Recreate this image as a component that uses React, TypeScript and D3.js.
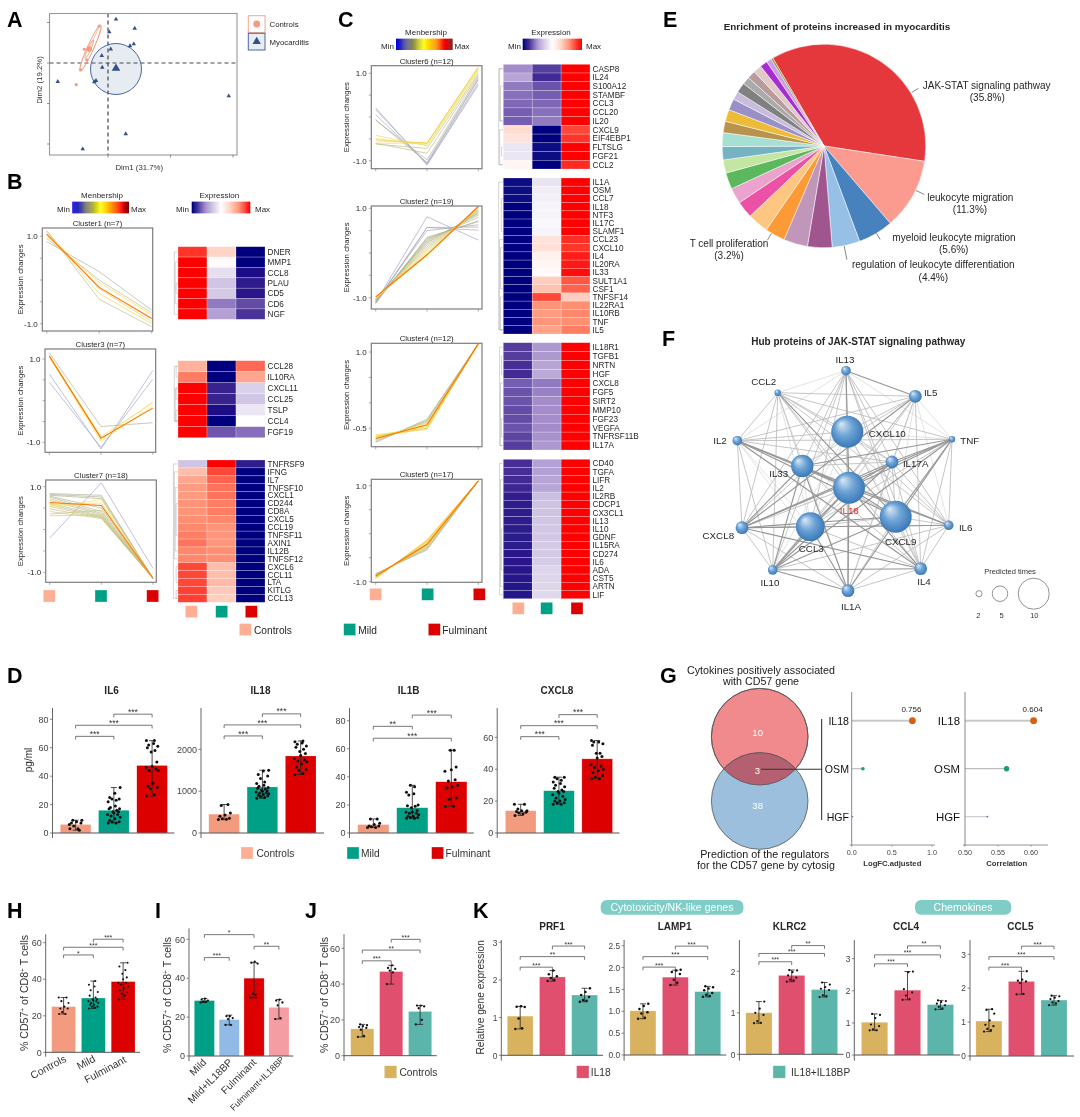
import * as d3 from "d3";
import React from "react";

const FONT = "'Liberation Sans', Arial, sans-serif";
const TXT = "#262626";

// ---------- colours ----------
const GROUP_COLORS = ["#fdae93", "#00a087", "#dc0000"];
const D_COLORS = ["#f39b7f", "#00a087", "#dc0000"];
const I_COLORS = ["#00a087", "#91bbe6", "#dc0000", "#f49ea3"];
const K_COLORS = ["#d9b25f", "#e0506e", "#5bb5aa"];

const heatColor = d3
  .scaleLinear<string>()
  .domain([-1, -0.8, -0.5, -0.25, 0, 0.3, 0.6, 1])
  .range(["#00007f", "#37208e", "#a48ccb", "#d4cae6", "#ffffff", "#ffd5c8", "#ff8f72", "#ff0000"]);

const memberLine = d3
  .scaleLinear<string>()
  .domain([0, 0.25, 0.5, 0.8, 1])
  .range(["#a3a3c8", "#b3b38c", "#f0e660", "#ff8c00", "#ff5a00"]);

const memberLegend = d3
  .scaleLinear<string>()
  .domain([0, 0.3, 0.5, 0.7, 0.87, 1])
  .range(["#0000e6", "#8c8c50", "#ffff00", "#ff9900", "#ff0000", "#7f0000"]);

// ---------- panel A ----------
const MYO_X = [0.64, 0.1, 2.14, 2.06, 1.76, 0.22, -0.5, -0.46, -0.96, -1.1, -4.02, 9.66, 1.42, -2.02];
const MYO_Y = [2.7, 1.91, 2.14, 1.17, 1.05, 0.86, 0.45, -0.27, -1.09, -1.17, -1.15, -2.04, -4.38, -5.31];
const CTRL_X = [-0.7, -1.9, -1.7, -2.18, -2.54];
const CTRL_Y = [2.28, 0.85, 0.19, -0.43, -1.34];

// ---------- clusters: [membership, controls, mild, fulminant] ----------
const CLUSTER1 = [
  [0.2, 0.88, 0.19, -0.69], [0.3, 0.95, 0.0, -0.75], [0.3, 1.13, -0.44, -1.07], [0.45, 1.1, -0.31, -1.0],
  [0.55, 1.0, -0.05, -0.8], [0.6, 1.12, -0.2, -0.95], [0.9, 1.05, -0.17, -0.88],
];
const CLUSTER3 = [
  [0, 0.64, -1.16, 0.72], [0, 0.44, -1.12, 0.51], [0.25, 1.15, -0.62, -0.53], [0.5, 1.1, -0.94, -0.02],
  [0.5, 1.04, -0.98, -0.13], [0.55, 1.07, -0.86, -0.06], [0.9, 1.07, -0.9, -0.18],
];
const CLUSTER7 = [
  [0, -0.2, 1.09, -0.91], [0.2, 0.84, 0.8, -1.14], [0.22, 0.82, 0.76, -1.14], [0.24, 0.8, 0.72, -1.14],
  [0.25, 0.78, 0.5, -1.14], [0.26, 0.76, 0.42, -1.14], [0.28, 0.72, 0.38, -1.14], [0.28, 0.68, 0.35, -1.14],
  [0.3, 0.62, 0.32, -1.14], [0.3, 0.58, 0.3, -1.14], [0.32, 0.54, 0.28, -1.14], [0.32, 0.48, 0.27, -1.14],
  [0.34, 0.42, 0.26, -1.14], [0.34, 0.36, 0.45, -1.14], [0.36, 0.32, 0.34, -1.14], [0.5, 0.5, 0.7, -1.14],
  [0.55, 0.58, 0.62, -1.14], [0.9, 0.63, 0.56, -1.14],
];
const CLUSTER6 = [
  [0, 0.21, -1.1, 0.73], [0.02, 0.17, -1.08, 0.78], [0.05, 0.05, -1.06, 0.85], [0.08, -0.07, -1.04, 0.88],
  [0.2, -0.07, -0.98, 0.92], [0.3, -0.6, -0.83, 0.96], [0.3, -0.62, -0.72, 1.0], [0.45, -0.42, -0.66, 1.05],
  [0.5, -0.49, -0.64, 1.08], [0.52, -0.55, -0.59, 1.1], [0.55, -0.6, -0.6, 1.13], [0.6, -0.52, -0.6, 1.15],
];
const CLUSTER2 = [
  [0, -1.1, 0.81, 0.29], [0.05, -1.13, 0.57, 0.51], [0.08, -1.1, 0.57, 0.58], [0.1, -1.08, 0.5, 0.63],
  [0.2, -1.13, 0.35, 0.7], [0.22, -1.1, 0.33, 0.72], [0.25, -1.08, 0.3, 0.8], [0.25, -1.06, 0.27, 0.85],
  [0.28, -1.05, 0.24, 0.88], [0.3, -1.05, 0.22, 0.9], [0.3, -1.04, 0.18, 0.92], [0.32, -1.03, 0.14, 0.94],
  [0.35, -1.02, 0.1, 0.96], [0.4, -1.02, 0.06, 0.98], [0.45, -1.02, 0.02, 1.0], [0.5, -1.0, -0.02, 1.02],
  [0.55, -1.0, -0.06, 1.03], [0.6, -0.98, -0.04, 1.04], [0.9, -0.98, -0.04, 1.04],
];
const CLUSTER4 = [
  [0.25, -0.78, -0.32, 1.16], [0.28, -0.76, -0.34, 1.16], [0.3, -0.74, -0.36, 1.16], [0.35, -0.72, -0.38, 1.16],
  [0.4, -0.7, -0.4, 1.16], [0.45, -0.68, -0.44, 1.16], [0.5, -0.66, -0.46, 1.16], [0.5, -0.64, -0.48, 1.16],
  [0.55, -0.63, -0.5, 1.16], [0.55, -0.65, -0.52, 1.16], [0.6, -0.67, -0.5, 1.16], [0.9, -0.7, -0.43, 1.16],
];
const CLUSTER5 = [
  [0.25, -0.83, -0.34, 1.1], [0.28, -0.84, -0.32, 1.1], [0.3, -0.85, -0.3, 1.1], [0.32, -0.86, -0.28, 1.1],
  [0.35, -0.86, -0.26, 1.1], [0.38, -0.87, -0.25, 1.1], [0.4, -0.88, -0.24, 1.1], [0.42, -0.89, -0.22, 1.1],
  [0.45, -0.89, -0.21, 1.1], [0.48, -0.9, -0.2, 1.1], [0.5, -0.9, -0.18, 1.1], [0.52, -0.91, -0.17, 1.1],
  [0.55, -0.92, -0.15, 1.1], [0.55, -0.93, -0.14, 1.1], [0.58, -0.93, -0.13, 1.1], [0.6, -0.92, -0.16, 1.1],
  [0.9, -0.88, -0.22, 1.1],
];

// ---------- heatmaps ----------
const GENES_B1 = ["DNER", "MMP1", "CCL8", "PLAU", "CD5", "CD6", "NGF"];
const HEAT_B1 = [[0.85, 0.3, -1], [1, 0.03, -1], [1, -0.15, -0.9], [1, -0.27, -0.83], [1, -0.25, -0.85], [1, -0.55, -0.68], [1, -0.42, -0.75]];
const GENES_B3 = ["CCL28", "IL10RA", "CXCL11", "CCL25", "TSLP", "CCL4", "FGF19"];
const HEAT_B3 = [[0.45, -1, 0.7], [0.65, -1, 0.5], [1, -0.8, -0.22], [1, -0.8, -0.27], [1, -0.9, -0.12], [1, -1, 0], [1, -0.65, -0.58]];
const GENES_B7 = ["TNFRSF9", "IFNG", "IL7", "TNFSF10", "CXCL1", "CD244", "CD8A", "CXCL5", "CCL19", "TNFSF11", "AXIN1", "IL12B", "TNFSF12", "CXCL6", "CCL11", "LTA", "KITLG", "CCL13"];
const HEAT_B7 = [[-0.27, 1, -0.83], [0.4, 0.8, -1], [0.5, 0.72, -1], [0.55, 0.68, -1], [0.55, 0.68, -1], [0.58, 0.65, -1], [0.58, 0.65, -1], [0.6, 0.62, -1], [0.62, 0.58, -1], [0.65, 0.57, -1], [0.68, 0.57, -1], [0.62, 0.6, -1], [0.62, 0.6, -1], [0.8, 0.4, -1], [0.8, 0.4, -1], [0.8, 0.42, -1], [0.82, 0.35, -1], [0.82, 0.33, -1]];
const GENES_C6 = ["CASP8", "IL24", "S100A12", "STAMBF", "CCL3", "CCL20", "IL20", "CXCL9", "EIF4EBP1", "FLTSLG", "FGF21", "CCL2"];
const HEAT_C6 = [[-0.5, -0.72, 1], [-0.4, -0.77, 1], [-0.55, -0.66, 1], [-0.58, -0.63, 1], [-0.6, -0.6, 1], [-0.63, -0.58, 1], [-0.63, -0.55, 1], [0.25, -1, 0.8], [0.2, -1, 0.85], [-0.12, -0.95, 1], [-0.12, -0.95, 1], [0.07, -1, 0.88]];
const GENES_C2 = ["IL1A", "OSM", "CCL7", "IL18", "NTF3", "IL17C", "SLAMF1", "CCL23", "CXCL10", "IL4", "IL20RA", "IL33", "SULT1A1", "CSF1", "TNFSF14", "IL22RA1", "IL10RB", "TNF", "IL5"];
const HEAT_C2 = [[-0.95, -0.13, 1], [-0.95, -0.08, 1], [-0.95, -0.07, 1], [-0.98, -0.05, 1], [-1, -0.05, 1], [-1, -0.04, 1], [-1, -0.05, 1], [-1, 0.2, 0.87], [-1, 0.22, 0.85], [-1, 0.1, 0.92], [-1, 0.07, 0.93], [-1, 0.03, 0.96], [-1, 0.33, 0.75], [-1, 0.38, 0.72], [-1, 0.8, 0.33], [-1, 0.58, 0.6], [-1, 0.55, 0.62], [-1, 0.57, 0.6], [-1, 0.52, 0.65]];
const GENES_C4 = ["IL18R1", "TGFB1", "NRTN", "HGF", "CXCL8", "FGF5", "SIRT2", "MMP10", "FGF23", "VEGFA", "TNFRSF11B", "IL17A"];
const HEAT_C4 = [[-0.72, -0.45, 1], [-0.72, -0.45, 1], [-0.76, -0.4, 1], [-0.77, -0.38, 1], [-0.63, -0.55, 1], [-0.66, -0.53, 1], [-0.66, -0.5, 1], [-0.68, -0.5, 1], [-0.68, -0.5, 1], [-0.66, -0.5, 1], [-0.7, -0.48, 1], [-0.72, -0.45, 1]];
const GENES_C5 = ["CD40", "TGFA", "LIFR", "IL2", "IL2RB", "CDCP1", "CX3CL1", "IL13", "IL10", "GDNF", "IL15RA", "CD274", "IL6", "ADA", "CST5", "ARTN", "LIF"];
const HEAT_C5 = [[-0.76, -0.42, 1], [-0.76, -0.42, 1], [-0.77, -0.4, 1], [-0.78, -0.4, 1], [-0.82, -0.3, 1], [-0.83, -0.28, 1], [-0.83, -0.28, 1], [-0.83, -0.27, 1], [-0.84, -0.26, 1], [-0.84, -0.26, 1], [-0.84, -0.25, 1], [-0.85, -0.25, 1], [-0.85, -0.24, 1], [-0.86, -0.2, 1], [-0.86, -0.2, 1], [-0.87, -0.19, 1], [-0.88, -0.18, 1]];

// ---------- panel D bars ----------
const D_GROUPS = ["Controls", "Mild", "Fulminant"];
const IL6_MEAN = [6, 16, 47.5];
const IL6_LO = [2, 7, 26];
const IL6_HI = [9, 32, 65];
const IL6_PTS = [
  [3, 3, 5, 7, 7, 8, 9, 9, 2, 6],
  [7, 7, 8, 8, 9, 10, 11, 12, 13, 13, 14, 15, 15, 16, 17, 17, 18, 19, 22, 23, 24, 24, 25, 28, 32],
  [26, 27, 31, 32, 33, 35, 44, 44, 45, 46, 47, 50, 57, 58, 60, 61, 62, 63, 65, 65],
];
const IL18_MEAN = [450, 1100, 1840];
const IL18_LO = [320, 830, 1400];
const IL18_HI = [680, 1500, 2200];
const IL18_PTS = [
  [320, 330, 340, 350, 400, 430, 480, 660, 680],
  [830, 850, 870, 890, 900, 920, 940, 950, 960, 980, 1000, 1010, 1030, 1050, 1070, 1090, 1120, 1140, 1180, 1220, 1300, 1360, 1400, 1480, 1500],
  [1400, 1420, 1500, 1520, 1580, 1650, 1700, 1720, 1750, 1780, 1850, 1900, 1950, 2000, 2050, 2080, 2120, 2150, 2180, 2200],
];
const IL1B_MEAN = [6, 18, 36.5];
const IL1B_LO = [4, 10.5, 19];
const IL1B_HI = [10, 34, 59];
const IL1B_PTS = [
  [4, 4, 4.5, 5, 5, 6, 7, 10, 10],
  [10.5, 10.5, 11, 11, 12, 12, 13, 14, 14, 15, 15, 16, 18, 19, 19.5, 20, 27, 28, 29, 33, 34],
  [19, 19, 24, 25, 32, 33, 34, 37, 38, 44, 45, 47, 59, 59],
];
const CXCL8_MEAN = [14, 26.5, 46.5];
const CXCL8_LO = [11, 18, 34];
const CXCL8_HI = [18, 35, 58];
const CXCL8_PTS = [
  [11, 12, 12.5, 13, 13.5, 14, 14, 15, 18, 18],
  [18, 18, 19, 19, 20, 20, 21, 22, 23, 24, 25, 26, 26, 27, 28, 29, 30, 31, 32, 33, 34, 35, 35],
  [34, 34, 35, 36, 38, 39, 40, 41, 42, 43, 47, 48, 50, 50, 55, 56, 57, 57, 58],
];

// ---------- panels H, I, J ----------
const H_MEAN = [25, 29.7, 38.7];
const H_LO = [21, 24, 29];
const H_HI = [30, 39, 49];
const H_PTS = [
  [21, 21, 22, 24, 24, 25, 27, 28, 30, 30],
  [24, 24.5, 25, 25, 26, 26, 27, 27, 28, 28, 28.5, 29, 29, 30, 31, 33, 34, 36, 37, 39],
  [29, 31, 32, 33, 34, 35, 36, 37, 38, 38, 40, 41, 43, 45, 47, 49],
];
const I_GROUPS = ["Mild", "Mild+IL18BP", "Fulminant", "Fulminant+IL18BP"];
const I_MEAN = [28.5, 18.7, 40, 25];
const I_LO = [27.5, 16, 30, 19];
const I_HI = [29.5, 21, 48, 29];
const I_PTS = [
  [27.5, 28, 28, 28.5, 29, 29.5],
  [16, 16, 19, 19.5, 20.5, 20.5],
  [30, 31.5, 32, 47.5, 48, 48.5],
  [19, 19.5, 26, 27.5, 28.5, 29],
];
const J_MEAN = [15, 47, 24.7];
const J_LO = [10.5, 40, 17.5];
const J_HI = [17.5, 50.5, 28];
const J_PTS = [
  [10.5, 11, 14.5, 15.5, 16, 16.5, 17, 17.5],
  [40, 46.5, 47.5, 48.5, 49, 50.5],
  [17.5, 20, 26.5, 27.5, 28, 28],
];

// ---------- panel K ----------
const PRF1_MEAN = [1.04, 2.08, 1.6];
const PRF1_LO = [0.7, 1.97, 1.42];
const PRF1_HI = [1.3, 2.25, 1.78];
const PRF1_PTS = [[0.7, 0.72, 0.98, 1.28, 1.29, 1.3], [1.97, 2.0, 2.05, 2.1, 2.15, 2.25], [1.42, 1.45, 1.47, 1.55, 1.6, 1.68, 1.78]];
const LAMP1_MEAN = [1.01, 1.78, 1.45];
const LAMP1_LO = [0.83, 1.6, 1.33];
const LAMP1_HI = [1.17, 1.94, 1.57];
const LAMP1_PTS = [[0.83, 0.85, 0.95, 0.98, 1.05, 1.12, 1.17], [1.6, 1.65, 1.72, 1.85, 1.9, 1.93, 1.95], [1.33, 1.35, 1.38, 1.42, 1.48, 1.52, 1.55, 1.57]];
const KLRC2_MEAN = [1.0, 1.9, 1.56];
const KLRC2_LO = [0.75, 1.75, 1.38];
const KLRC2_HI = [1.27, 2.03, 1.73];
const KLRC2_PTS = [[0.75, 0.76, 0.8, 0.95, 1.0, 1.1, 1.27], [1.75, 1.78, 1.8, 1.85, 1.9, 1.98, 2.02, 2.03], [1.38, 1.4, 1.42, 1.55, 1.58, 1.62, 1.68, 1.73]];
const CCL4_MEAN = [1.02, 2.02, 1.57];
const CCL4_LO = [0.77, 1.72, 1.42];
const CCL4_HI = [1.28, 2.6, 1.7];
const CCL4_PTS = [[0.77, 0.77, 0.8, 0.9, 0.95, 1.15, 1.25, 1.28], [1.72, 1.74, 1.85, 1.95, 2.05, 2.58, 2.6], [1.42, 1.45, 1.5, 1.55, 1.6, 1.65, 1.68, 1.7]];
const CCL5_MEAN = [1.03, 2.2, 1.65];
const CCL5_LO = [0.72, 1.82, 1.5];
const CCL5_HI = [1.38, 2.5, 1.78];
const CCL5_PTS = [[0.72, 0.76, 0.8, 0.88, 0.92, 1.05, 1.25, 1.36, 1.38], [1.82, 1.83, 2.15, 2.2, 2.22, 2.25, 2.5], [1.5, 1.55, 1.58, 1.62, 1.68, 1.72, 1.76, 1.78]];

// fixed horizontal spread of the dots, as a share of the bar width
const JITTER = [-0.3, 0.12, -0.1, 0.28, -0.22, 0.05, 0.33, -0.15, 0.2, -0.33, 0, 0.25, -0.05, 0.15, -0.25, 0.3, -0.18, 0.08];

// ---------- panel E ----------
const PIE_VALUES = [35.8, 11.3, 5.6, 4.4, 3.9, 3.8, 3.2, 3.3, 2.7, 2.5, 2.6, 2.1, 2.1, 2.2, 1.8, 1.9, 1.8, 1.3, 1.6, 1.2, 1.3, 1.3, 1.2, 0.8, 0.3];
const PIE_COLORS = ["#e4373e", "#fb9a8e", "#4682bf", "#97c0e6", "#a0558f", "#c097ba", "#fd9a35", "#fdc681", "#ec51a5", "#eba3ce", "#5cb85c", "#c3e6a0", "#74b3c2", "#a6e0d3", "#b8934e", "#ecbb38", "#9a90c8", "#c9bbdb", "#808080", "#aaaaaa", "#b89c9c", "#e3c8c8", "#a52fd0", "#d09ce8", "#8a9a3a"];

// ---------- panel F ----------
const HUB_NAMES = ["IL13", "IL5", "TNF", "IL6", "IL4", "IL1A", "IL10", "CXCL8", "IL2", "CCL2", "CXCL10", "IL17A", "IL33", "IL18", "CXCL9", "CCL3"];
const HUB_TIMES = [3, 4, 2, 3, 4, 4, 3, 4, 3, 2, 10, 4, 7, 10, 10, 9];
// upper triangle of the edge weights, 0 = no edge
const HUB_EDGES = ["312222211222322", "11222322212212", "2233322133332", "222332222322", "23332222322", "3211213323", "222133333", "22233233", "2222331", "222231", "21111", "2322", "321", "33", "2"];

// ---------- panel G ----------
const G_GENES = ["IL18", "OSM", "HGF"];
const G_LOGFC = [0.756, 0.14, 0.01];
const G_CORR = [0.604, 0.563, 0.534];
const G_LOGFC_SIZE = [3.4, 1.8, 0.8];
const G_CORR_SIZE = [3.4, 2.7, 0.9];
const G_DOT = ["#d95f0e", "#1a9e6e", "#6a6ac0"];

// ---------- small parts ----------
const T = ({ x, y, s = 9, a = "start", w, c = TXT, r, children }: any) => (
  <text
    x={x}
    y={y}
    fontSize={s}
    textAnchor={a}
    fontWeight={w}
    fill={c}
    fontFamily={FONT}
    transform={r !== undefined ? `rotate(${r} ${x} ${y})` : undefined}
  >
    {children}
  </text>
);

const Square = ({ x, y, size = 12, color }: any) => (
  <rect x={x} y={y} width={size} height={size} fill={color} stroke="#fff" strokeOpacity={0.5} strokeWidth={0.6} />
);

const ClusterPlot = ({ title, lines, x0, x1, top, bottom, y1, yn, vn = -1, ticks, labels, ylabX, xPts }: any) => {
  const y = d3.scaleLinear().domain([vn, 1]).range([yn, y1]);
  const x = d3.scalePoint<number>().domain([0, 1, 2]).range(xPts);
  const path = d3
    .line<number>()
    .x((_, i) => x(i) as number)
    .y((d) => y(d));
  const sorted = [...lines].sort((a: number[], b: number[]) => a[0] - b[0]);
  return (
    <g>
      {sorted.map((l: number[], i: number) => (
        <path
          key={i}
          d={path(l.slice(1)) as string}
          fill="none"
          stroke={memberLine(l[0])}
          strokeWidth={l[0] > 0.8 ? 1.1 : 0.8}
          strokeOpacity={l[0] > 0.8 ? 1 : 0.85}
        />
      ))}
      <rect x={x0} y={top} width={x1 - x0} height={bottom - top} fill="none" stroke="#7d7d7d" strokeWidth={1.2} />
      {ticks.map((t: number) => (
        <line key={t} x1={x0 - 2.5} x2={x0} y1={y(t)} y2={y(t)} stroke="#8a8a8a" strokeWidth={0.7} />
      ))}
      {xPts && [0, 1, 2].map((i) => (
        <line key={i} x1={x(i)} x2={x(i)} y1={bottom} y2={bottom + 2.5} stroke="#8a8a8a" strokeWidth={0.7} />
      ))}
      {labels.map((t: number) => (
        <T key={t} x={x0 - 4.5} y={y(t) + 3} s={8} a="end">{t.toFixed(1)}</T>
      ))}
      <T x={(x0 + x1) / 2} y={top - 2} s={7.8} a="middle">{title}</T>
      <T x={ylabX} y={(top + bottom) / 2} s={7.8} a="middle" r={-90}>Expression changes</T>
    </g>
  );
};

const Heat = ({ genes, values, x0, x1, top, bottom, dendro }: any) => {
  const col = d3.scaleBand<number>().domain([0, 1, 2]).range([x0, x1]);
  const row = d3.scaleBand<string>().domain(genes).range([top, bottom]);
  return (
    <g>
      {values.map((r: number[], i: number) =>
        r.map((v, j) => (
          <rect
            key={`${i}-${j}`}
            x={col(j)}
            y={row(genes[i])}
            width={col.bandwidth()}
            height={row.bandwidth()}
            fill={heatColor(v)}
            stroke="#fff"
            strokeOpacity={0.45}
            strokeWidth={0.5}
          />
        ))
      )}
      {genes.map((g: string) => (
        <T key={g} x={x1 + 2.5} y={(row(g) as number) + row.bandwidth() / 2 + 2.9} s={8.2}>{g}</T>
      ))}
      {dendro.map(([a, b, depth]: number[], i: number) => {
        const ya = (row(genes[a]) as number) + row.bandwidth() / 2;
        const yb = (row(genes[b]) as number) + row.bandwidth() / 2;
        const xd = x0 - 1 - depth * 0.9;
        return (
          <path key={i} d={`M${x0 - 0.5},${ya}H${xd}V${yb}H${x0 - 0.5}`} fill="none" stroke="#a0a0a0" strokeWidth={0.45} />
        );
      })}
    </g>
  );
};

const LegendBar = ({ x0, x1, y0, y1, color, steps = 60 }: any) => {
  const s = d3.scaleLinear().domain([0, steps]).range([x0, x1]);
  return (
    <g>
      {d3.range(steps).map((i) => (
        <rect key={i} x={s(i)} y={y0} width={s(1) - s(0) + 0.3} height={y1 - y0} fill={color(i / (steps - 1))} />
      ))}
    </g>
  );
};

const Plus = ({ children }: any) => (
  <>
    <tspan dy={-3} fontSize={6.5}>{children}</tspan>
    <tspan dy={3}> </tspan>
  </>
);

const BarPanel = ({
  title, titleX, titleY, groups, means, lo, hi, pts, colors, axisX, axisEnd, x0, x1, pad = 0.2,
  base, ref1, refV, top, bottom, ticks, fmt = (d: number) => String(d), brackets, r = 1.5, tickSize = 9, titleSize = 10,
  brSize = 8.5,
}: any) => {
  const y = d3.scaleLinear().domain([0, refV]).range([base, ref1]);
  const x = d3.scaleBand<string>().domain(groups).range([x0, x1]).paddingInner(pad).paddingOuter(0);
  const bw = x.bandwidth();
  const cx = (i: number) => (x(groups[i]) as number) + bw / 2;
  return (
    <g>
      {title && <T x={titleX} y={titleY} s={titleSize} a="middle" w="bold">{title}</T>}
      {groups.map((g: string, i: number) => (
        <rect key={g} x={x(g)} y={y(means[i])} width={bw} height={y(0) - y(means[i])} fill={colors[i]} stroke="#fff" strokeOpacity={0.4} strokeWidth={0.5} />
      ))}
      {groups.map((g: string, i: number) => (
        <g key={g} stroke="#222" strokeWidth={0.8}>
          <line x1={cx(i)} x2={cx(i)} y1={y(lo[i])} y2={y(hi[i])} />
          <line x1={cx(i) - 3} x2={cx(i) + 3} y1={y(lo[i])} y2={y(lo[i])} />
          <line x1={cx(i) - 3} x2={cx(i) + 3} y1={y(hi[i])} y2={y(hi[i])} />
        </g>
      ))}
      {pts.map((arr: number[], i: number) =>
        arr.map((v, k) => (
          <circle key={`${i}-${k}`} cx={cx(i) + JITTER[k % JITTER.length] * bw * 0.62} cy={y(v)} r={r} fill="#111" />
        ))
      )}
      <line x1={axisX} x2={axisX} y1={top} y2={bottom} stroke="#555" strokeWidth={0.9} />
      <line x1={axisX} x2={axisEnd} y1={y(0)} y2={y(0)} stroke="#555" strokeWidth={1} />
      {ticks.map((t: number) => (
        <g key={t}>
          <line x1={axisX - 2.5} x2={axisX} y1={y(t)} y2={y(t)} stroke="#555" strokeWidth={0.7} />
          <T x={axisX - 4} y={y(t) + 3.2} s={tickSize} a="end" c="#444">{fmt(t)}</T>
        </g>
      ))}
      {brackets.map(([a, b, v, label]: any, i: number) => (
        <g key={i}>
          <path d={`M${cx(a)},${y(v) + 3.2}V${y(v)}H${cx(b)}V${y(v) + 3.2}`} fill="none" stroke="#555" strokeWidth={0.8} />
          <T x={(cx(a) + cx(b)) / 2} y={y(v) + 0.6} s={brSize} a="middle" c="#333">{label}</T>
        </g>
      ))}
    </g>
  );
};

const PctLabel = ({ x, y }: any) => (
  <text x={x} y={y} fontSize={10.6} textAnchor="middle" fill="#333" fontFamily={FONT} transform={`rotate(-90 ${x} ${y})`}>
    % CD57<Plus>+</Plus>of CD8<Plus>+</Plus>T cells
  </text>
);

const Lollipop = ({ values, sizes, scale, axisX, axisEnd, labelX, labelSize, ticks, fmt, title, titleX, showVal }: any) => {
  const y = d3.scalePoint<string>().domain(G_GENES).range([720.7, 816.7]);
  return (
    <g>
      {G_GENES.map((g, i) => (
        <g key={g}>
          <line x1={axisX} x2={scale(values[i])} y1={y(g)} y2={y(g)} stroke={i === 0 ? "#c8c8c8" : "#bdbdbd"} strokeWidth={i === 0 ? 2 : i === 1 ? 1.2 : 0.9} />
          <circle cx={scale(values[i])} cy={y(g)} r={sizes[i]} fill={G_DOT[i]} />
          <T x={labelX} y={(y(g) as number) + 4} s={labelSize} a="end" c="#111">{g}</T>
        </g>
      ))}
      <T x={scale(values[0]) - 1} y={712} s={8} a="middle" c="#222">{showVal}</T>
      <line x1={axisX} x2={axisX} y1={692} y2={846} stroke="#888" strokeWidth={1} />
      <line x1={axisX - 2} x2={axisEnd} y1={845} y2={845} stroke="#888" strokeWidth={0.9} />
      {ticks.map((t: number) => (
        <g key={t}>
          <line x1={scale(t)} x2={scale(t)} y1={845} y2={847} stroke="#888" strokeWidth={0.6} />
          <T x={scale(t)} y={855} s={7.2} a="middle" c="#444">{fmt(t)}</T>
        </g>
      ))}
      <T x={titleX} y={866} s={7.7} a="middle" w="bold" c="#333">{title}</T>
    </g>
  );
};

const App = () => {
  // panel A scales
  const ax = d3.scaleLinear().domain([0, 5]).range([108, 170.5]);
  const ay = d3.scaleLinear().domain([0, 2.5]).range([63, 22.5]);

  // panel E
  const pieGen = d3.pie<number>().sort(null).startAngle((-30.2 * Math.PI) / 180).endAngle(((360 - 30.2) * Math.PI) / 180);
  const pieArcs = pieGen(PIE_VALUES);
  const arc = d3.arc<d3.PieArcDatum<number>>().innerRadius(0).outerRadius(101.8);
  const leaders = [[58.6, 103, 110.6], [115.8, 102, 111.5], [149, 102, 109], [168.6, 102, 116], [211, 102, 110]];
  const deg = Math.PI / 180;

  // panel F, layout of the nodes in the drawing
  const hubX: Record<string, number> = { IL13: 846, IL5: 915.3, TNF: 952, IL6: 948.7, IL4: 920.7, IL1A: 848, IL10: 772.7, CXCL8: 742, IL2: 737.3, CCL2: 777.7, CXCL10: 847.3, IL17A: 892, IL33: 802.3, IL18: 849, CXCL9: 895.7, CCL3: 810.3 };
  const hubY: Record<string, number> = { IL13: 370.7, IL5: 396.3, TNF: 439.3, IL6: 525.3, IL4: 568.7, IL1A: 590.7, IL10: 570, CXCL8: 527.7, IL2: 440.7, CCL2: 392.7, CXCL10: 431.7, IL17A: 462, IL33: 466, IL18: 487.7, CXCL9: 516.7, CCL3: 526.7 };
  const hubLabel: any[] = [["IL13", 845, 363], ["CCL2", 763.7, 385], ["IL5", 930.7, 395.5], ["IL2", 720, 443.5], ["TNF", 969.7, 444], ["CXCL10", 887.3, 436.5], ["IL33", 778.7, 477], ["IL17A", 915.7, 466.5], ["CXCL8", 718.3, 539], ["IL6", 965.7, 531], ["CCL3", 811.3, 551.5], ["CXCL9", 900.7, 544.5], ["IL10", 770, 585.5], ["IL4", 924, 585], ["IL1A", 851, 609.5]];
  const hubR = d3.scaleLinear().domain([0, 10]).range([0, 16]);
  const edgeColor = d3.scaleOrdinal<number, string>().domain([1, 2, 3]).range(["#dcdcdc", "#c0c0c0", "#959595"]);
  const edgeWidth = d3.scaleOrdinal<number, number>().domain([1, 2, 3]).range([0.8, 0.9, 1.1]);
  const edges: any[] = [];
  HUB_EDGES.forEach((row, i) =>
    row.split("").forEach((w, k) => {
      if (+w > 0) edges.push({ a: HUB_NAMES[i], b: HUB_NAMES[i + k + 1], w: +w });
    })
  );
  edges.sort((p, q) => p.w - q.w);

  const lfc = d3.scaleLinear().domain([0, 1]).range([851.7, 932]);
  const cor = d3.scaleLinear().domain([0.5, 0.6]).range([965, 1031]);

  return (
    <svg width={1080} height={1117} viewBox="0 0 1080 1117" style={{ position: "absolute", left: 0, top: 0, background: "#fff" }}>
      <defs>
        <radialGradient id="ball" cx="50%" cy="50%" r="60%" fx="30%" fy="25%">
          <stop offset="0%" stopColor="#dce9f5" />
          <stop offset="45%" stopColor="#6ea4d6" />
          <stop offset="100%" stopColor="#2c6db0" />
        </radialGradient>
        <filter id="soft" x="0" y="0" width="100%" height="100%">
          <feGaussianBlur stdDeviation="0.35" />
        </filter>
      </defs>
      <g filter="url(#soft)">
      <rect x={0} y={0} width={1080} height={1117} fill="#fff" />

      {/* panel letters */}
      {[["A", 7, 27], ["B", 7, 189], ["C", 338, 27], ["D", 7, 683], ["E", 663, 27], ["F", 662, 346], ["G", 660, 683], ["H", 7, 918], ["I", 155, 918], ["J", 305, 918], ["K", 473, 918]].map(([l, x, y]: any) => (
        <T key={l} x={x} y={y} s={21.5} w="bold" c="#000">{l}</T>
      ))}

      {/* A */}
      <g>
        <line x1={108} x2={108} y1={13.5} y2={155} stroke="#333" strokeWidth={1.1} strokeDasharray="4 3" />
        <line x1={49.5} x2={237} y1={63} y2={63} stroke="#333" strokeWidth={0.9} strokeDasharray="4 3" />
        <circle cx={ax(0.64)} cy={ay(-0.37)} r={25.5} fill="#3b5998" fillOpacity={0.12} stroke="#4a67a3" strokeWidth={1} />
        <ellipse cx={0} cy={0} rx={3.2} ry={25} fill="none" stroke="#f39b7f" strokeWidth={0.9} transform={`translate(${ax(-1.4)},${ay(0.93)}) rotate(24)`} />
        <ellipse cx={0} cy={0} rx={1.6} ry={10} fill="none" stroke="#f39b7f" strokeWidth={0.8} transform={`translate(${ax(-1.5)},${ay(0.86)}) rotate(24)`} />
        <line x1={ax(-1.5)} x2={ax(-0.7)} y1={ay(0.86)} y2={ay(2.28)} stroke="#f39b7f" strokeWidth={0.6} />
        {MYO_X.map((v, i) => (
          <path key={i} d={d3.symbol(d3.symbolTriangle, 9)() as string} transform={`translate(${ax(v)},${ay(MYO_Y[i])})`} fill="#34508c" />
        ))}
        {CTRL_X.map((v, i) => (
          <circle key={i} cx={ax(v)} cy={ay(CTRL_Y[i])} r={1.6} fill="#f39b7f" />
        ))}
        <circle cx={ax(-1.5)} cy={ay(0.86)} r={2.8} fill="#f39b7f" />
        <path d={d3.symbol(d3.symbolTriangle, 32)() as string} transform={`translate(${ax(0.64)},${ay(-0.33)})`} fill="#34508c" />
        <rect x={49.5} y={13.5} width={187.5} height={141.5} fill="none" stroke="#9a9a9a" strokeWidth={1.1} />
        {[0, 5, 10].map((t) => (
          <line key={t} x1={ax(t)} x2={ax(t)} y1={155} y2={157.5} stroke="#666" strokeWidth={0.7} />
        ))}
        {[2.5, 0, -2.5, -5].map((t) => (
          <line key={t} x1={47} x2={49.5} y1={ay(t)} y2={ay(t)} stroke="#666" strokeWidth={0.7} />
        ))}
        <T x={139.3} y={169.5} s={7.8} a="middle" c="#333">Dim1 (31.7%)</T>
        <T x={41.5} y={80} s={7.8} a="middle" c="#333" r={-90}>Dim2 (19.2%)</T>
        <rect x={248.3} y={15.7} width={16.7} height={16.7} fill="#fff" stroke="#f4a58f" strokeWidth={1} />
        <circle cx={256.7} cy={24} r={3.4} fill="#f39b7f" />
        <rect x={248.3} y={33.3} width={16.7} height={16.7} fill="#e8ecf4" stroke="#4a67a3" strokeWidth={1} />
        <path d={d3.symbol(d3.symbolTriangle, 30)() as string} transform="translate(256.7,41.5)" fill="#34508c" />
        <T x={269.5} y={27.3} s={7.8}>Controls</T>
        <T x={269.5} y={45} s={7.8}>Myocarditis</T>
      </g>

      {/* B legends */}
      <T x={102} y={198} s={8} a="middle">Menbership</T>
      <LegendBar x0={72.3} x1={128.7} y0={201.7} y1={213.3} color={memberLegend} />
      <T x={70} y={211.5} s={8} a="end">Min</T>
      <T x={131} y={211.5} s={8}>Max</T>
      <T x={219.3} y={198} s={8} a="middle">Expression</T>
      <LegendBar x0={191.7} x1={250} y0={201.7} y1={213.3} color={(t: number) => heatColor(t * 2 - 1)} />
      <T x={189} y={211.5} s={8} a="end">Min</T>
      <T x={255} y={211.5} s={8}>Max</T>

      {/* C legends */}
      <T x={426} y={34.5} s={8} a="middle">Menbership</T>
      <LegendBar x0={396} x1={452.3} y0={38.7} y1={50} color={memberLegend} />
      <T x={394} y={48.5} s={8} a="end">Min</T>
      <T x={454.5} y={48.5} s={8}>Max</T>
      <T x={551} y={34.5} s={8} a="middle">Expression</T>
      <LegendBar x0={522.7} x1={581.7} y0={38.7} y1={50} color={(t: number) => heatColor(t * 2 - 1)} />
      <T x={521} y={48.5} s={8} a="end">Min</T>
      <T x={586} y={48.5} s={8}>Max</T>

      {/* B clusters */}
      <ClusterPlot title="Cluster1 (n=7)" lines={CLUSTER1} x0={42.3} x1={152.7} top={228} bottom={331} y1={236.3} yn={323.7} ticks={[1, 0.5, 0, -0.5, -1]} labels={[1, -1]} ylabX={23} xPts={[46.7, 151.7]} />
      <ClusterPlot title="Cluster3 (n=7)" lines={CLUSTER3} x0={45} x1={155.7} top={349} bottom={452.3} y1={359} yn={442.3} ticks={[1, 0.5, 0, -0.5, -1]} labels={[1, -1]} ylabX={23} xPts={[49.3, 152.7]} />
      <ClusterPlot title="Cluster7 (n=18)" lines={CLUSTER7} x0={45.7} x1={156.3} top={480} bottom={582.3} y1={486.7} yn={572.3} ticks={[1, 0.5, 0, -0.5, -1]} labels={[1, -1]} ylabX={23} xPts={[49.7, 153]} />
      <Heat genes={GENES_B1} values={HEAT_B1} x0={178} x1={265} top={246.7} bottom={319.3} dendro={[[0, 6, 3], [1, 5, 2], [3, 4, 1]]} />
      <Heat genes={GENES_B3} values={HEAT_B3} x0={178} x1={265} top={360.7} bottom={437.7} dendro={[[0, 1, 1], [0, 5, 3], [2, 5, 2], [2, 3, 1], [4, 5, 1]]} />
      <Heat genes={GENES_B7} values={HEAT_B7} x0={178} x1={265} top={460} bottom={602.3} dendro={[[0, 17, 4], [1, 12, 3], [3, 11, 2], [5, 9, 1], [13, 15, 1], [16, 17, 1]]} />

      {/* C clusters */}
      <ClusterPlot title="Cluster6 (n=12)" lines={CLUSTER6} x0={371.3} x1={482} top={65.7} bottom={168.7} y1={73.3} yn={160.7} ticks={[1, 0.5, 0, -0.5, -1]} labels={[1, -1]} ylabX={349} xPts={[375.7, 478.3]} />
      <ClusterPlot title="Cluster2 (n=19)" lines={CLUSTER2} x0={371.3} x1={482} top={206} bottom={309} y1={208.3} yn={297.7} ticks={[1, 0.5, 0, -0.5, -1]} labels={[1, -1]} ylabX={349} xPts={[375.7, 478.3]} />
      <ClusterPlot title="Cluster4 (n=12)" lines={CLUSTER4} x0={371.3} x1={482} top={343.3} bottom={446.7} y1={352} yn={428.3} vn={-0.5} ticks={[1, 0.5, 0, -0.5]} labels={[1, -0.5]} ylabX={349} xPts={[375.7, 478.3]} />
      <ClusterPlot title="Cluster5 (n=17)" lines={CLUSTER5} x0={371.3} x1={482} top={479.3} bottom={582.3} y1={485.7} yn={581.7} ticks={[1, 0.5, 0, -0.5, -1]} labels={[1, -1]} ylabX={349} xPts={[375.7, 478.3]} />
      <Heat genes={GENES_C6} values={HEAT_C6} x0={503.3} x1={590} top={64.3} bottom={169} dendro={[[0, 11, 4], [0, 6, 3], [2, 6, 2], [7, 11, 3], [9, 10, 1]]} />
      <Heat genes={GENES_C2} values={HEAT_C2} x0={503.3} x1={590} top={178} bottom={334} dendro={[[0, 18, 4], [2, 6, 1], [7, 18, 3], [8, 13, 2], [14, 18, 2]]} />
      <Heat genes={GENES_C4} values={HEAT_C4} x0={503.3} x1={590} top={342.7} bottom={450} dendro={[[0, 11, 3], [1, 3, 1], [4, 11, 2], [8, 10, 1]]} />
      <Heat genes={GENES_C5} values={HEAT_C5} x0={503.3} x1={590} top={459.3} bottom={598.7} dendro={[[0, 16, 3], [2, 15, 2], [8, 13, 1]]} />

      {/* group squares under B and C */}
      {[[43.3, 95, 146.7, 590], [185.3, 215.7, 245.3, 605.7], [369.7, 421.7, 473.3, 588.3], [512.3, 540.7, 571, 602.3]].map((q, k) => (
        <g key={k}>
          {GROUP_COLORS.map((c, i) => <Square key={i} x={q[i]} y={q[3]} color={c} />)}
        </g>
      ))}
      <Square x={239.3} y={623.5} color={GROUP_COLORS[0]} />
      <T x={254} y={633.5} s={10.2}>Controls</T>
      <Square x={343.7} y={623.5} color={GROUP_COLORS[1]} />
      <T x={358.3} y={633.5} s={10.2}>Mild</T>
      <Square x={428.3} y={623.5} color={GROUP_COLORS[2]} />
      <T x={442.3} y={633.5} s={10.2}>Fulminant</T>

      {/* E */}
      <T x={837} y={30} s={9.9} a="middle" w="bold">Enrichment of proteins increased in myocarditis</T>
      <g transform="translate(824,146)">
        {pieArcs.map((d, i) => (
          <path key={i} d={arc(d) as string} fill={PIE_COLORS[i]} stroke="#fff" strokeWidth={0.5} />
        ))}
        {leaders.map(([a, r1, r2], i) => {
          const p = d3.pointRadial(a * deg, r1);
          const q = d3.pointRadial(a * deg, r2);
          return <line key={i} x1={p[0]} y1={p[1]} x2={q[0]} y2={q[1]} stroke="#333" strokeWidth={0.6} />;
        })}
      </g>
      {[["JAK-STAT signaling pathway", 986.7, 89], ["(35.8%)", 987.3, 101], ["leukocyte migration", 970.3, 200.7], ["(11.3%)", 970, 212.7], ["myeloid leukocyte migration", 954, 240.7], ["(5.6%)", 953.7, 253.3], ["regulation of leukocyte differentiation", 933.3, 268.3], ["(4.4%)", 933.3, 281], ["T cell proliferation", 729, 247], ["(3.2%)", 729, 259.3]].map(([s, x, y]: any) => (
        <T key={s} x={x} y={y} s={10} a="middle">{s}</T>
      ))}

      {/* F */}
      <T x={858.3} y={345} s={10} a="middle" w="bold">Hub proteins of JAK-STAT signaling pathway</T>
      {edges.map((e, i) => (
        <line key={i} x1={hubX[e.a]} y1={hubY[e.a]} x2={hubX[e.b]} y2={hubY[e.b]} stroke={edgeColor(e.w)} strokeWidth={edgeWidth(e.w)} />
      ))}
      {HUB_NAMES.map((n, i) => (
        <circle key={n} cx={hubX[n]} cy={hubY[n]} r={hubR(HUB_TIMES[i])} fill="url(#ball)" />
      ))}
      {hubLabel.map(([n, x, y]) => (
        <T key={n} x={x} y={y} s={9.8} a="middle">{n}</T>
      ))}
      <T x={849.3} y={514} s={9.8} a="middle" c="#ff1a1a">IL18</T>
      <T x={1010} y={574} s={7.5} a="middle" c="#333">Predicted times</T>
      {[2, 5, 10].map((t, i) => (
        <g key={t}>
          <circle cx={[979, 1000, 1033.7][i]} cy={593.7} r={hubR(t) * 0.97} fill="none" stroke="#777" strokeWidth={0.8} />
          <T x={[978.3, 1001.7, 1034.3][i]} y={617.5} s={7.5} a="middle" c="#333">{t}</T>
        </g>
      ))}

      {/* D */}
      <BarPanel title="IL6" titleX={111.6} titleY={693.5} groups={D_GROUPS} means={IL6_MEAN} lo={IL6_LO} hi={IL6_HI} pts={IL6_PTS} colors={D_COLORS} axisX={52.5} axisEnd={174.4} x0={60.3} x1={167.4} base={833} ref1={719.3} refV={80} top={708} bottom={838} ticks={[0, 20, 40, 60, 80]} brackets={[[1, 2, 83.6, "***"], [0, 2, 75.8, "***"], [0, 1, 68, "***"]]} />
      <BarPanel title="IL18" titleX={260.5} titleY={693.5} groups={D_GROUPS} means={IL18_MEAN} lo={IL18_LO} hi={IL18_HI} pts={IL18_PTS} colors={D_COLORS} axisX={201} axisEnd={324} x0={208.8} x1={316} base={833} ref1={749.3} refV={2000} top={708} bottom={838} ticks={[0, 1000, 2000]} brackets={[[1, 2, 2847, "***"], [0, 2, 2583, "***"], [0, 1, 2319, "***"]]} />
      <BarPanel title="IL1B" titleX={408.6} titleY={693.5} groups={D_GROUPS} means={IL1B_MEAN} lo={IL1B_LO} hi={IL1B_HI} pts={IL1B_PTS} colors={D_COLORS} axisX={349.5} axisEnd={473.8} x0={357.7} x1={466.9} base={833} ref1={720.7} refV={80} top={708} bottom={838} ticks={[0, 20, 40, 60, 80]} brackets={[[1, 2, 84, "***"], [0, 1, 76, "**"], [0, 2, 67.5, "***"]]} />
      <BarPanel title="CXCL8" titleX={557} titleY={693.5} groups={D_GROUPS} means={CXCL8_MEAN} lo={CXCL8_LO} hi={CXCL8_HI} pts={CXCL8_PTS} colors={D_COLORS} axisX={497.2} axisEnd={619.5} x0={505.4} x1={612.5} base={833} ref1={737.3} refV={60} top={708} bottom={838} ticks={[0, 20, 40, 60]} brackets={[[1, 2, 74.2, "***"], [0, 2, 67.3, "***"], [0, 1, 60.4, "***"]]} />
      <T x={32} y={760} s={10} a="middle" r={-90}>pg/ml</T>
      <Square x={241} y={847} color={GROUP_COLORS[0]} />
      <T x={256.4} y={857} s={10.2} c="#333">Controls</T>
      <Square x={347} y={847} color={D_COLORS[1]} />
      <T x={361} y={857} s={10.2} c="#333">Mild</T>
      <Square x={431.6} y={847} color={D_COLORS[2]} />
      <T x={445.6} y={857} s={10.2} c="#333">Fulminant</T>

      {/* G */}
      <T x={761} y={674} s={10.7} a="middle" c="#1a1a1a">Cytokines positively associated</T>
      <T x={761} y={684.5} s={10.7} a="middle" c="#1a1a1a">with CD57 gene</T>
      <clipPath id="vennTop"><circle cx={759.7} cy={736.7} r={48.3} /></clipPath>
      <circle cx={759.7} cy={736.7} r={48.3} fill="#f08a8c" stroke="#555" strokeWidth={0.8} />
      <circle cx={759.7} cy={801} r={48.3} fill="#9bbfdc" stroke="#555" strokeWidth={0.8} />
      <circle cx={759.7} cy={801} r={48.3} fill="#b5606f" stroke="#555" strokeWidth={0.8} clipPath="url(#vennTop)" />
      <circle cx={759.7} cy={736.7} r={48.3} fill="none" stroke="#555" strokeWidth={0.8} />
      <T x={757.7} y={735.5} s={9.6} a="middle" c="#fff">10</T>
      <T x={757.3} y={774} s={9.6} a="middle" c="#fff">3</T>
      <T x={757.7} y={809} s={9.6} a="middle" c="#fff">38</T>
      <T x={764.7} y={858} s={10.8} a="middle" c="#1a1a1a">Prediction of the regulators</T>
      <T x={766} y={868.5} s={10.7} a="middle" c="#1a1a1a">for the CD57 gene by cytosig</T>
      <line x1={761} x2={821.7} y1={769.3} y2={769.3} stroke="#333" strokeWidth={1.1} />
      <line x1={821.7} x2={821.7} y1={719} y2={820} stroke="#222" strokeWidth={1} />
      <Lollipop values={G_LOGFC} sizes={G_LOGFC_SIZE} scale={lfc} axisX={851.7} axisEnd={935} labelX={849} labelSize={10.6} ticks={[0, 0.5, 1]} fmt={d3.format(".1f")} title="LogFC.adjusted" titleX={892.3} showVal="0.756" />
      <Lollipop values={G_CORR} sizes={G_CORR_SIZE} scale={cor} axisX={965} axisEnd={1048} labelX={960} labelSize={11.4} ticks={[0.5, 0.55, 0.6]} fmt={d3.format(".2f")} title="Correlation" titleX={1006.7} showVal="0.604" />

      {/* H */}
      <BarPanel groups={D_GROUPS} means={H_MEAN} lo={H_LO} hi={H_HI} pts={H_PTS} colors={D_COLORS} axisX={45.7} axisEnd={140} x0={51.7} x1={135} base={1052.3} ref1={942.7} refV={60} top={934.3} bottom={1056.7} ticks={[0, 20, 40, 60]} r={1.05} brackets={[[1, 2, 61.9, "***"], [0, 2, 57.5, "***"], [0, 1, 53.3, "*"]]} brSize={7} />
      <PctLabel x={28} y={993} />
      {D_GROUPS.map((g, i) => (
        <T key={g} x={[67, 96, 127][i]} y={[1061, 1061, 1062][i]} s={10.4} a="end" c="#333" r={-28}>{g}</T>
      ))}

      {/* I */}
      <BarPanel groups={I_GROUPS} means={I_MEAN} lo={I_LO} hi={I_HI} pts={I_PTS} colors={I_COLORS} axisX={189} axisEnd={293.3} x0={194.3} x1={289} pad={0.19} base={1056} ref1={939.3} refV={60} top={928.3} bottom={1061} ticks={[0, 20, 40, 60]} r={1.15} brackets={[[0, 2, 62.4, "*"], [2, 3, 56.4, "**"], [0, 1, 50.6, "***"]]} brSize={7} />
      <PctLabel x={170.5} y={995} />
      {I_GROUPS.map((g, i) => (
        <T key={g} x={[207, 233, 257, 285][i]} y={i === 3 ? 1060 : 1063} s={i === 3 ? 8.8 : 10.2} a="end" c="#333" r={-45}>{g}</T>
      ))}

      {/* J */}
      <BarPanel groups={D_GROUPS} means={J_MEAN} lo={J_LO} hi={J_HI} pts={J_PTS} colors={K_COLORS} axisX={344} axisEnd={436.7} x0={350.7} x1={431.7} base={1055.7} ref1={948.3} refV={60} top={934.3} bottom={1061} ticks={[0, 20, 40, 60]} r={1.15} brackets={[[1, 2, 65, "***"], [0, 2, 59, "**"], [0, 1, 53, "***"]]} brSize={7} />
      <PctLabel x={328} y={995} />
      <Square x={384.3} y={1065.7} size={12.5} color={K_COLORS[0]} />
      <T x={399.5} y={1075.5} s={10.2} c="#333">Controls</T>

      {/* K */}
      <rect x={600.7} y={900} width={142.7} height={14.7} rx={6} fill="#7fcdc6" />
      <T x={672} y={911} s={10.6} a="middle" c="#fff">Cytotoxicity/NK-like genes</T>
      <rect x={915} y={900} width={96.3} height={14.7} rx={6} fill="#7fcdc6" />
      <T x={963} y={911} s={10.6} a="middle" c="#fff">Chemokines</T>
      <BarPanel title="PRF1" titleX={552} titleY={930} groups={D_GROUPS} means={PRF1_MEAN} lo={PRF1_LO} hi={PRF1_HI} pts={PRF1_PTS} colors={K_COLORS} axisX={501.3} axisEnd={603} x0={507.3} x1={597.5} base={1055.3} ref1={942.3} refV={3} top={940} bottom={1060.7} ticks={[0, 1, 2, 3]} r={1.25} tickSize={8.4} brackets={[[1, 2, 2.9, "***"], [0, 2, 2.62, "**"], [0, 1, 2.34, "***"]]} brSize={7} />
      <BarPanel title="LAMP1" titleX={674.6} titleY={930} groups={D_GROUPS} means={LAMP1_MEAN} lo={LAMP1_LO} hi={LAMP1_HI} pts={LAMP1_PTS} colors={K_COLORS} axisX={624.1} axisEnd={726.3} x0={630} x1={720.7} base={1055} ref1={945.7} refV={2.5} top={940} bottom={1060.7} ticks={[0, 0.5, 1, 1.5, 2, 2.5]} fmt={d3.format(".1f")} r={1.25} tickSize={8.4} brackets={[[1, 2, 2.49, "***"], [0, 2, 2.25, "***"], [0, 1, 2.01, "***"]]} brSize={7} />
      <BarPanel title="KLRC2" titleX={789.5} titleY={930} groups={D_GROUPS} means={KLRC2_MEAN} lo={KLRC2_LO} hi={KLRC2_HI} pts={KLRC2_PTS} colors={K_COLORS} axisX={739.4} axisEnd={843.5} x0={745.8} x1={837.6} base={1054.3} ref1={971.3} refV={2} top={940} bottom={1060.7} ticks={[0, 1, 2]} r={1.1} tickSize={8.4} brackets={[[1, 2, 2.62, "**"], [0, 2, 2.43, "***"], [0, 1, 2.23, "***"]]} brSize={6.5} />
      <BarPanel title="CCL4" titleX={906} titleY={930} groups={D_GROUPS} means={CCL4_MEAN} lo={CCL4_LO} hi={CCL4_HI} pts={CCL4_PTS} colors={K_COLORS} axisX={854.3} axisEnd={960} x0={861.4} x1={953.6} base={1055} ref1={958.7} refV={3} top={940} bottom={1060.7} ticks={[0, 1, 2, 3]} r={1.1} tickSize={8.4} brackets={[[1, 2, 3.4, "**"], [0, 2, 3.12, "***"], [0, 1, 2.84, "***"]]} brSize={6.5} />
      <BarPanel title="CCL5" titleX={1020.4} titleY={930} groups={D_GROUPS} means={CCL5_MEAN} lo={CCL5_LO} hi={CCL5_HI} pts={CCL5_PTS} colors={K_COLORS} axisX={970} axisEnd={1074} x0={975.9} x1={1067} base={1056} ref1={954.3} refV={3} top={940} bottom={1060.7} ticks={[0, 1, 2, 3]} r={1.15} tickSize={8.4} brackets={[[1, 2, 3.24, "***"], [0, 2, 2.93, "***"], [0, 1, 2.62, "***"]]} brSize={7} />
      <T x={484.5} y={997.3} s={10.2} a="middle" c="#333" r={-90}>Relative gene expression</T>
      <Square x={576.5} y={1065.7} size={12.5} color={K_COLORS[1]} />
      <T x={590.8} y={1075.5} s={10.2} c="#333">IL18</T>
      <Square x={773} y={1065.7} size={12.5} color={K_COLORS[2]} />
      <T x={791} y={1075.5} s={10.2} c="#333">IL18+IL18BP</T>
      </g>
    </svg>
  );
};

export default App;
